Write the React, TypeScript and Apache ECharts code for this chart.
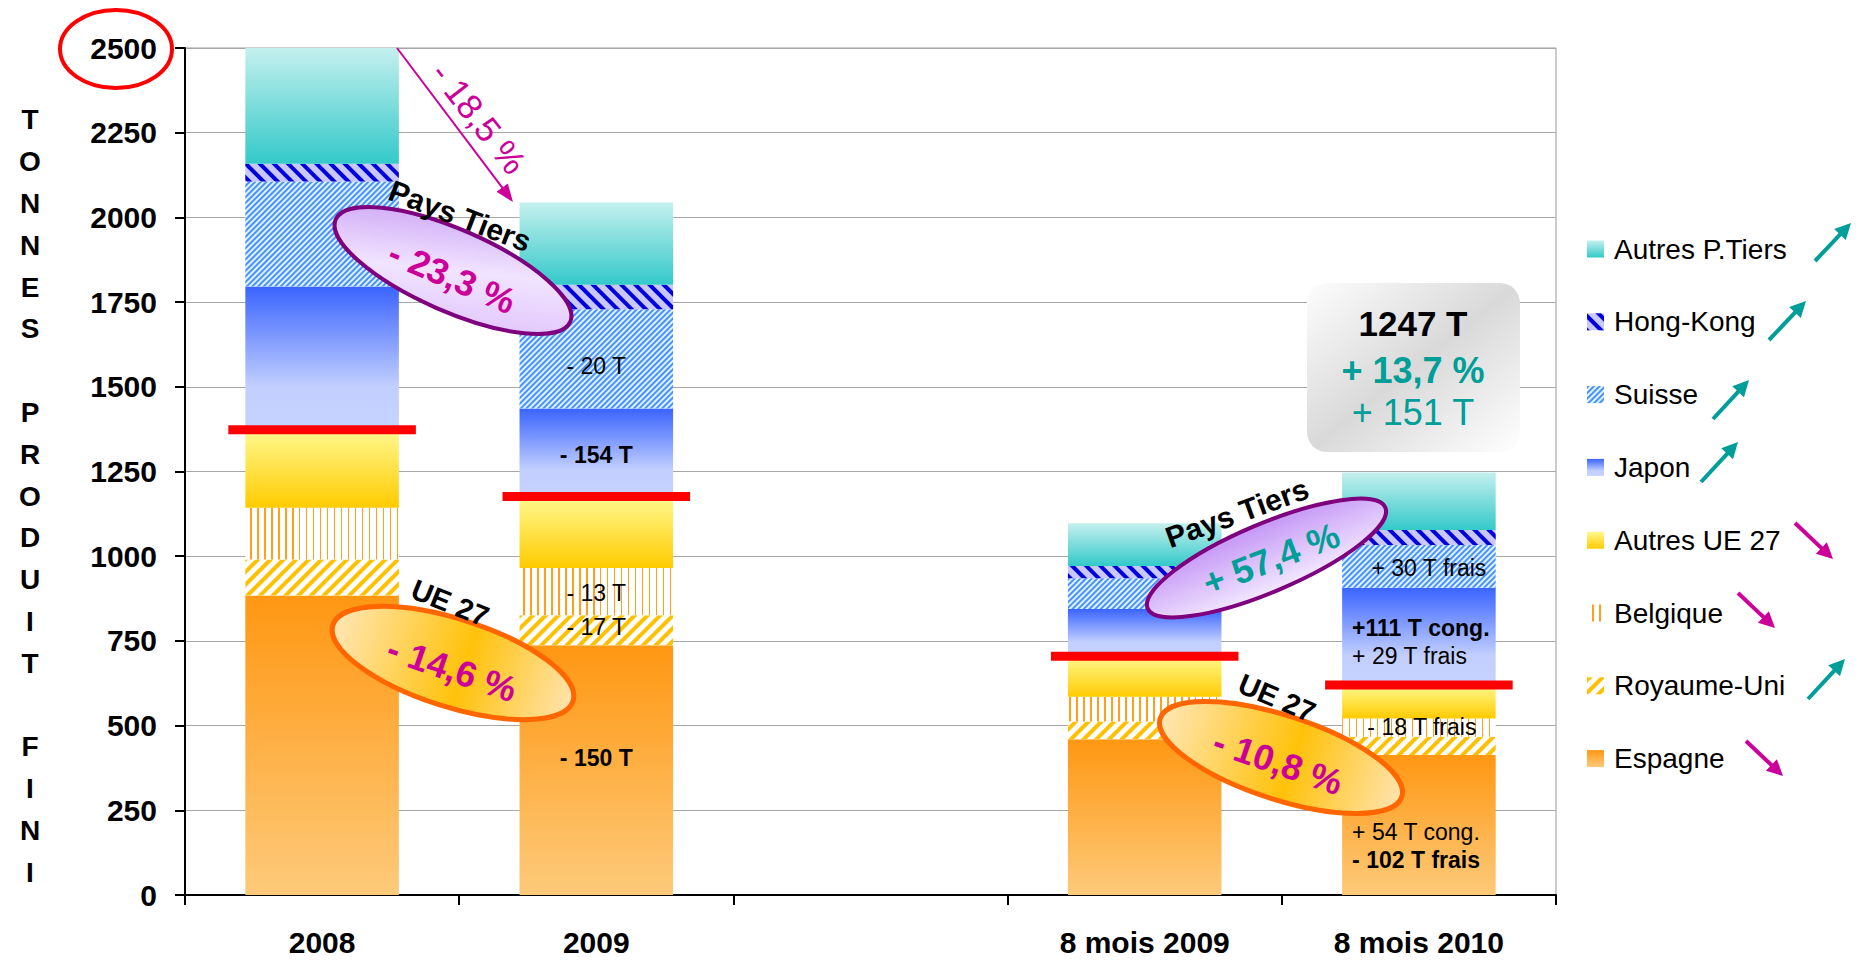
import React, { useEffect, useRef } from 'react';
import * as echarts from 'echarts';

const FF = '"Liberation Sans", Arial, sans-serif';

// ---------- data ----------
const categories = ['2008', '2009', '', '8 mois 2009', '8 mois 2010'];
const espagne = [884, 737, null, 460, 413];
const royaumeUni = [106, 89, null, 52, 54];
const belgique = [153, 139, null, 73, 54];
const autresUE = [230, 211, null, 120, 99];
const japon = [423, 260, null, 139, 287];
const suisse = [310, 293, null, 91, 126];
const hongKong = [52, 72, null, 36, 44];
const autresPT = [342, 243, null, 126, 170];

const legendOrder = ['Autres P.Tiers', 'Hong-Kong', 'Suisse', 'Japon', 'Autres UE 27', 'Belgique', 'Royaume-Uni', 'Espagne'];

const notesEspagne = ['', '{bd|- 150 T}', '', '', '{rg|+ 54 T cong.}\n{bd|- 102 T frais}'];
const notesRU = ['', '{rg|- 17 T}', '', '', ''];
const notesBelgique = ['', '{rg|- 13 T}', '', '', '{rg|- 18 T frais}'];
const notesJapon = ['', '{bd|- 154 T}', '', '', '{bd|+111 T cong.}\n{rg|+ 29 T frais}'];
const notesSuisse = ['', '{rg|- 20 T}', '', '', '{rg|+ 30 T frais}'];

const ueTotals = categories.map((_, i) =>
  espagne[i] == null ? null : (espagne[i] as number) + (royaumeUni[i] as number) + (belgique[i] as number) + (autresUE[i] as number)
);

// ---------- helpers ----------
const lg = (x1: number, y1: number, x2: number, y2: number, stops: [number, string][]) =>
  new echarts.graphic.LinearGradient(x1, y1, x2, y2, stops.map(([offset, color]) => ({ offset, color })));

const rich = {
  bd: { fontWeight: 'bold', fontSize: 23, color: '#000', fontFamily: FF, lineHeight: 28 },
  rg: { fontSize: 23, color: '#000', fontFamily: FF, lineHeight: 28 },
};

function items(values: (number | null)[], notes: string[], place: (i: number) => any) {
  return values.map((v, i) => {
    if (v == null) return '-';
    if (!notes[i]) return v;
    return {
      value: v,
      label: { show: true, formatter: notes[i], color: '#000', fontFamily: FF, fontSize: 23, rich, ...place(i) },
    };
  });
}

const centerPlace = (offsets: Record<number, [number, number]>) => (i: number) => ({
  position: 'inside',
  offset: offsets[i] || [0, 0],
});
const mixedPlace = (offsets: Record<number, [number, number]>, leftIdx: number) => (i: number) =>
  i === leftIdx
    ? { position: 'insideLeft', distance: 10, align: 'left', offset: offsets[i] || [0, 0] }
    : { position: 'inside', offset: offsets[i] || [0, 0] };

function arrow(x1: number, y1: number, x2: number, y2: number, color: string, lw: number, hl: number, hw: number) {
  const dx = x2 - x1, dy = y2 - y1, L = Math.hypot(dx, dy);
  const ux = dx / L, uy = dy / L;
  const bx = x2 - ux * hl, by = y2 - uy * hl;
  const px = -uy, py = ux;
  return [
    { type: 'line', z: 30, shape: { x1, y1, x2: bx + ux * 2, y2: by + uy * 2 }, style: { stroke: color, lineWidth: lw } },
    {
      type: 'polygon', z: 30,
      shape: { points: [[x2, y2], [bx + (px * hw) / 2, by + (py * hw) / 2], [bx - (px * hw) / 2, by - (py * hw) / 2]] },
      style: { fill: color },
    },
  ];
}

const deg = (d: number) => (d * Math.PI) / 180;
const MAG = '#CC0099';
const TEAL = '#009E99';

function rtext(x: number, y: number, rotDeg: number, text: string, size: number, color: string, bold: boolean) {
  return {
    type: 'text', z: 40, x, y, rotation: deg(rotDeg),
    style: { text, fill: color, fontSize: size, fontWeight: bold ? 'bold' : 'normal', fontFamily: FF, align: 'center', verticalAlign: 'middle' },
  };
}

function ell(cx: number, cy: number, rx: number, ry: number, rotDeg: number, fill: any, stroke: string, lw: number) {
  return { type: 'ellipse', z: 35, x: cx, y: cy, rotation: deg(rotDeg), shape: { cx: 0, cy: 0, rx, ry }, style: { fill, stroke, lineWidth: lw } };
}

const purpleA = lg(0, 0, 1, 1, [[0, '#C69AF4'], [0.5, '#F1E4FF'], [1, '#DDBDFB']]);
const purpleB = lg(0, 0, 0, 1, [[0, '#C597F6'], [1, '#F2E8FF']]);
const orangeF = () => lg(0, 0, 1, 0, [[0, '#FFE6B5'], [0.55, '#FFC20A'], [1, '#FFE3AE']]);

const barBase = { type: 'bar', stack: 'total', barWidth: '56%', emphasis: { disabled: true } };

const option: any = {
  animation: false,
  backgroundColor: '#fff',
  grid: { left: 185, right: 303, top: 48, bottom: 65, show: true, borderColor: '#999', borderWidth: 1, backgroundColor: 'transparent' },
  xAxis: {
    type: 'category',
    data: categories,
    axisLine: { show: true, lineStyle: { color: '#000', width: 2 } },
    axisTick: { show: true, length: 10, alignWithLabel: false, lineStyle: { color: '#000', width: 2 } },
    axisLabel: { fontSize: 30, fontWeight: 'bold', color: '#000', margin: 32, fontFamily: FF, interval: 0 },
    splitLine: { show: false },
  },
  yAxis: {
    type: 'value', min: 0, max: 2500, interval: 250,
    axisLine: { show: true, lineStyle: { color: '#000', width: 2 } },
    axisTick: { show: true, length: 10, lineStyle: { color: '#000', width: 2 } },
    axisLabel: { fontSize: 30, fontWeight: 'bold', color: '#000', margin: 28, fontFamily: FF, formatter: (v: number) => String(v) },
    splitLine: { show: true, lineStyle: { color: '#A6A6A6', width: 1 } },
  },
  legend: {
    orient: 'vertical', left: 1587, top: 235, padding: 0,
    itemWidth: 17, itemHeight: 17, itemGap: 44.8, icon: 'rect', selectedMode: false,
    data: legendOrder,
    textStyle: { fontSize: 28, color: '#000', fontFamily: FF, lineHeight: 28, padding: [0, 0, 0, 5] },
  },
  series: [
    {
      ...barBase, name: 'Espagne',
      data: items(espagne, notesEspagne, mixedPlace({ 1: [0, -12], 4: [0, 21] }, 4)),
      itemStyle: { color: lg(0, 0, 0, 1, [[0, '#FF9712'], [1, '#FDCA7A']]) },
    },
    {
      ...barBase, name: 'Royaume-Uni',
      data: items(royaumeUni, notesRU, centerPlace({ 1: [0, -3] })),
      itemStyle: { color: '#FFFFFF', decal: { symbol: 'rect', symbolSize: 1, dashArrayX: [1, 0], dashArrayY: [4, 5], rotation: -Math.PI / 4, color: '#FFC000' } },
    },
    {
      ...barBase, name: 'Belgique',
      data: items(belgique, notesBelgique, centerPlace({ 1: [0, 1], 4: [3, -1] })),
      itemStyle: { color: '#FFFFFF', decal: { symbol: 'rect', symbolSize: 1, dashArrayX: [1, 0], dashArrayY: [2, 5], rotation: Math.PI / 2, color: '#FF9F1C' } },
    },
    {
      ...barBase, name: 'Autres UE 27',
      data: items(autresUE, ['', '', '', '', ''], centerPlace({})),
      itemStyle: { color: lg(0, 0, 0, 1, [[0, '#FFF98F'], [1, '#FFCB00']]) },
    },
    {
      ...barBase, name: 'Japon',
      data: items(japon, notesJapon, mixedPlace({ 1: [0, 2], 4: [0, 6] }, 4)),
      itemStyle: { color: lg(0, 0, 0, 1, [[0, '#3A64FF'], [0.7, '#C2CFFF'], [1, '#C6D3FF']]) },
    },
    {
      ...barBase, name: 'Suisse',
      data: items(suisse, notesSuisse, centerPlace({ 1: [0, 7], 4: [10, 2] })),
      itemStyle: { color: '#DDF3FF', decal: { symbol: 'rect', symbolSize: 1, dashArrayX: [1, 0], dashArrayY: [1.5, 2], rotation: -Math.PI / 4, color: '#4A90FF' } },
    },
    {
      ...barBase, name: 'Hong-Kong',
      data: items(hongKong, ['', '', '', '', ''], centerPlace({})),
      itemStyle: { color: '#C8C8FF', decal: { symbol: 'rect', symbolSize: 1, dashArrayX: [1, 0], dashArrayY: [4, 6], rotation: Math.PI / 4, color: '#0000DD' } },
    },
    {
      ...barBase, name: 'Autres P.Tiers',
      data: items(autresPT, ['', '', '', '', ''], centerPlace({})),
      itemStyle: { color: lg(0, 0, 0, 1, [[0, '#C4F0EE'], [1, '#33C9C9']]) },
    },
    {
      type: 'custom', name: 'Total UE 27', z: 5,
      encode: { x: 0, y: 1 },
      data: ueTotals.map((v, i) => (v == null ? null : [i, v])).filter((d) => d != null),
      renderItem: (params: any, api: any) => {
        const p = api.coord([api.value(0), api.value(1)]);
        const w = api.size([1, 0])[0] * 0.56 + 34;
        return { type: 'rect', shape: { x: p[0] - w / 2, y: p[1] - 4.5, width: w, height: 9 }, style: { fill: '#FF0000' } };
      },
    },
  ],
  graphic: [
    // Y axis title
    {
      type: 'text', x: 30, y: 496, z: 40,
      style: {
        text: 'T\nO\nN\nN\nE\nS\n \nP\nR\nO\nD\nU\nI\nT\n \nF\nI\nN\nI',
        fill: '#000', fontSize: 28, fontWeight: 'bold', fontFamily: FF, align: 'center', verticalAlign: 'middle', lineHeight: 41.8,
      },
    },
    // red ellipse around 2500
    { type: 'ellipse', z: 40, shape: { cx: 116, cy: 49, rx: 56, ry: 39 }, style: { fill: 'transparent', stroke: '#FF0000', lineWidth: 4 } },
    // -18,5 % arrow
    ...arrow(397, 48, 513, 202, MAG, 2, 18, 14),
    rtext(479, 118, -52, '- 18,5 %', 35, MAG, false),
    // Pays Tiers 2008-2009
    ell(453, 270.5, 128, 41, -23.6, purpleA, '#7E007E', 4),
    rtext(460, 216, -21, 'Pays Tiers', 30, '#000', true),
    rtext(452, 277, -23, '- 23,3 %', 36, MAG, true),
    // UE 27 2008-2009
    ell(453, 663, 126, 44, -17.6, orangeF(), '#FF6600', 5),
    rtext(450, 603, -22, 'UE 27', 29, '#000', true),
    rtext(452, 669, -19, '- 14,6 %', 36, MAG, true),
    // Pays Tiers 8 mois
    ell(1266.5, 558, 129, 34, 23, purpleB, '#7E007E', 4),
    rtext(1237, 513, 20, 'Pays Tiers', 30, '#000', true),
    rtext(1271, 559, 21, '+ 57,4 %', 36, TEAL, true),
    // UE 27 8 mois
    ell(1281, 757.5, 127, 42, -18, orangeF(), '#FF6600', 5),
    rtext(1277, 698, -23, 'UE 27', 29, '#000', true),
    rtext(1278, 762, -19, '- 10,8 %', 36, MAG, true),
    // summary box
    {
      type: 'rect', z: 30, shape: { x: 1307, y: 283, width: 213, height: 169, r: 20 },
      style: { fill: lg(0, 0, 1, 1, [[0, '#FDFDFD'], [0.5, '#D9D9D9'], [1, '#FFFFFF']]) },
    },
    rtext(1413, 323, 0, '1247 T', 35, '#000', true),
    rtext(1413, 370, 0, '+ 13,7 %', 36, TEAL, true),
    rtext(1413, 412, 0, '+ 151 T', 36, TEAL, false),
    // legend trend arrows
    ...arrow(1815, 261, 1851, 223, TEAL, 4, 16, 16),
    ...arrow(1769, 340, 1806, 301, TEAL, 4, 16, 16),
    ...arrow(1713, 419, 1749, 380, TEAL, 4, 16, 16),
    ...arrow(1701, 482, 1738, 442, TEAL, 4, 16, 16),
    ...arrow(1795, 523, 1833, 559, MAG, 4, 16, 16),
    ...arrow(1738, 593, 1775, 628, MAG, 4, 16, 16),
    ...arrow(1808, 699, 1845, 659, TEAL, 4, 16, 16),
    ...arrow(1746, 741, 1783, 776, MAG, 4, 16, 16),
  ],
};

export default function App() {
  const ref = useRef<HTMLDivElement>(null);
  useEffect(() => {
    if (!ref.current) return;
    const chart = echarts.init(ref.current, null, { renderer: 'svg' });
    chart.setOption(option);
    return () => chart.dispose();
  }, []);
  return <div ref={ref} style={{ position: 'fixed', left: 0, top: 0, width: 1859, height: 960, background: '#fff' }} />;
}
